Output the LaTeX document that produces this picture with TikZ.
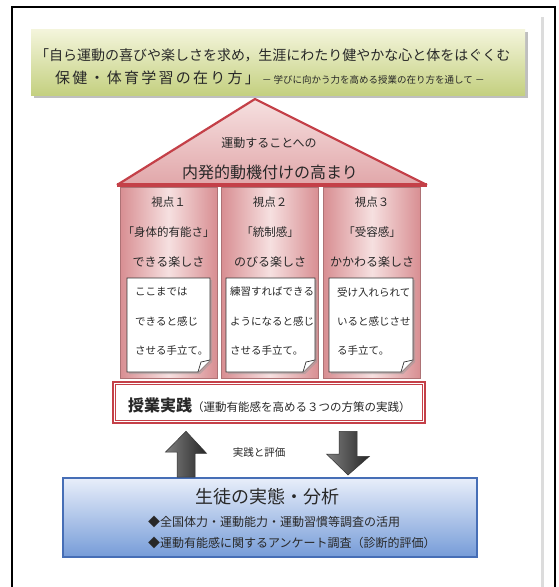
\documentclass[tikz,border=0pt]{standalone}
\usepackage{fontspec}
\setmainfont{Noto Sans CJK JP}
\usetikzlibrary{shadows,calc}
\definecolor{framegray}{RGB}{220,220,220}
\definecolor{titletop}{RGB}{244,245,220}
\definecolor{titlebot}{RGB}{196,208,128}
\definecolor{roofred}{RGB}{196,64,72}
\definecolor{pinklight}{RGB}{246,224,224}
\definecolor{pinkdark}{RGB}{216,142,146}
\definecolor{bluetop}{RGB}{232,238,250}
\definecolor{bluebot}{RGB}{118,156,216}
\definecolor{blueedge}{RGB}{70,110,182}
\definecolor{txt}{RGB}{40,40,40}
\newcommand{\fs}[1]{\fontsize{#1}{#1}\selectfont}
\tikzset{
  lbl/.style={inner sep=0pt, text=txt},
  pillarbox/.style={draw=pinkdark!80!black, line width=0.6pt, left color=pinkdark, right color=pinkdark, middle color=pinklight, minimum width=97pt, minimum height=191pt, inner sep=0pt},
  notebox/.style={fill=white, draw=black!80, line width=0.8pt, drop shadow={shadow xshift=2pt, shadow yshift=-2pt, fill=black!40}},
  blockarrow/.style={left color=black!50, right color=black!85, draw=black!80, line width=0.5pt},
}
\begin{document}
\begin{tikzpicture}[x=1pt,y=-1pt]
\useasboundingbox (0,0) rectangle (558,587);
\fill[white] (0,0) rectangle (558,587);
% page frame
\draw[line width=2pt] (12,587) -- (12,7) -- (555,7) -- (555,587);
\draw[line width=3pt, framegray] (542,17) -- (542,587);
% title
\fill[black!25] (34,32) rectangle (528,98);
\path[top color=titletop, bottom color=titlebot] (31,29) rectangle (525,95);
\node[lbl, anchor=west] (t1) at (35,55) {\fs{14}「自ら運動の喜びや楽しさを求め，生涯にわたり健やかな心と体をはぐくむ};
\node[lbl, anchor=west] (t2) at (55,78) {{\fs{15}\addfontfeatures{LetterSpace=15}保健・体育学習の在り方」}{\fs{9.5} － 学びに向かう力を高める授業の在り方を通して －}};
% roof
\coordinate (apex) at (255,99);
\coordinate (eaveL) at (117,185);
\coordinate (eaveR) at (427,185);
\path[top color=pinklight, bottom color=pinkdark!70!pinklight] (apex) -- (eaveR) -- (eaveL) -- cycle;
\draw[roofred, line width=2.2pt, line join=round] (eaveL) -- (apex) -- (eaveR);
\draw[roofred, line width=4pt] (eaveL) -- (eaveR);
\node[lbl] (r1) at (269,143) {\fs{12}運動することへの};
\node[lbl] (r2) at (270,172) {\fs{16}内発的動機付けの高まり};
% pillars
\node[pillarbox] (p1) at (168.5,282.5) {};
\node[pillarbox] (p2) at (270,282.5) {};
\node[pillarbox] (p3) at (372,282.5) {};
\foreach \p/\a/\b/\c in {p1/視点１/「身体的有能さ」/できる楽しさ, p2/視点２/「統制感」/のびる楽しさ, p3/視点３/「受容感」/かかわる楽しさ}{
  \node[lbl] (\p a) at ($(\p.north)+(0,15)$) {\fs{11.5}\a};
  \node[lbl] (\p b) at ($(\p.north)+(0,45)$) {\fs{11.5}\b};
  \node[lbl] (\p c) at ($(\p.north)+(0,75)$) {\fs{12}\c};
}
% notes
\foreach \n/\xa/\xb/\tx/\la/\lb/\lc in {n1/127/210/135/ここまでは/できると感じ/させる手立て。, n2/226/315/230/練習すればできる/ようになると感じ/させる手立て。, n3/329/413/337/受け入れられて/いると感じさせ/る手立て。}{
  \path[notebox] (\xa,278) -- (\xb,278) -- (\xb,360) -- ({\xb-12},372) -- (\xa,372) -- cycle;
  \draw[black!80, line width=0.7pt, fill=white] ({\xb-12},372) -- ({\xb-9},362) -- (\xb,360);
  \node[lbl, anchor=west] (\n a) at (\tx,292) {\fs{10.5}\la};
  \node[lbl, anchor=west] (\n b) at (\tx,321) {\fs{10.5}\lb};
  \node[lbl, anchor=west] (\n c) at (\tx,350) {\fs{10.5}\lc};
}
% practice box
\node[fill=white, draw=roofred, line width=2.5pt, minimum width=312pt, minimum height=41pt, inner sep=0pt] (prac) at (269,402.5) {};
\draw[roofred, line width=0.8pt] ($(prac.north west)+(4,4)$) rectangle ($(prac.south east)+(-4,-4)$);
\node[lbl, anchor=west] (pract) at (128,405) {{\bfseries\fs{16}授業実践}{\fs{11.5}（運動有能感を高める３つの方策の実践）}};
% analysis box
\node[top color=bluetop, bottom color=bluebot, draw=blueedge, line width=2pt, minimum width=414pt, minimum height=79pt, inner sep=0pt] (ana) at (270,517.5) {};
\node[lbl] (anat) at (267,497) {\fs{18}生徒の実態・分析};
\node[lbl, anchor=west] (ana1) at (148,522) {\fs{12}◆全国体力・運動能力・運動習慣等調査の活用};
\node[lbl, anchor=west] (ana2) at (148,543) {\fs{12}◆運動有能感に関するアンケート調査（診断的評価）};
% block arrows
\path[blockarrow] ($(prac.south)+(-83,7)$) -- ++(20.5,22) -- ++(-11.5,0) -- ($(ana.north)+(-75,0)$) -- ++(-18,0) -- ++(0,-25) -- ++(-11.5,0) -- cycle;
\path[blockarrow] ($(prac.south)+(70,7)$) -- ++(18,0) -- ++(0,25) -- ++(12.5,0) -- ($(ana.north)+(78,-2)$) -- ++(-21.5,-21) -- ++(12.5,0) -- cycle;
\node[lbl] (eval) at (259,452) {\fs{10.5}実践と評価};
\end{tikzpicture}
\end{document}
